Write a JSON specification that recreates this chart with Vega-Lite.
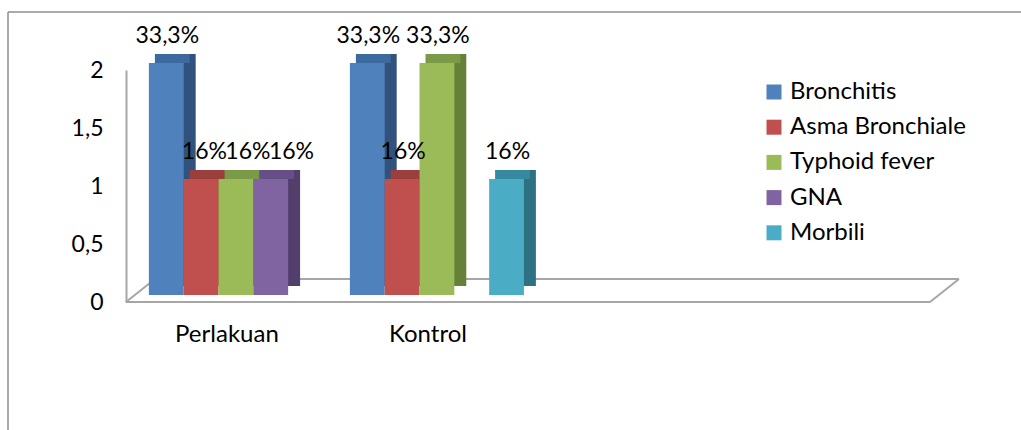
{
  "$schema": "https://vega.github.io/schema/vega-lite/v6.json",
  "width": 804,
  "height": 232,
  "autosize": {"type": "none"},
  "padding": {"left": 126, "top": 70, "right": 91, "bottom": 128},
  "background": "white",
  "config": {"font": "Lato", "view": {"stroke": null}},
  "data": {
    "values": [
      {"kelompok": "Perlakuan", "penyakit": "Bronchitis", "jumlah": 2, "persen": "33,3%"},
      {"kelompok": "Perlakuan", "penyakit": "Asma Bronchiale", "jumlah": 1, "persen": "16%"},
      {"kelompok": "Perlakuan", "penyakit": "Typhoid fever", "jumlah": 1, "persen": "16%"},
      {"kelompok": "Perlakuan", "penyakit": "GNA", "jumlah": 1, "persen": "16%"},
      {"kelompok": "Kontrol", "penyakit": "Bronchitis", "jumlah": 2, "persen": "33,3%"},
      {"kelompok": "Kontrol", "penyakit": "Asma Bronchiale", "jumlah": 1, "persen": "16%"},
      {"kelompok": "Kontrol", "penyakit": "Typhoid fever", "jumlah": 2, "persen": "33,3%"},
      {"kelompok": "Kontrol", "penyakit": "Morbili", "jumlah": 1, "persen": "16%"}
    ]
  },
  "layer": [
    {
      "data": {"values": [{}]},
      "layer": [
        {
          "mark": {"type": "rule", "color": "#8f8f8f", "strokeWidth": 1.5, "xOffset": -118, "x2Offset": 120, "yOffset": -58},
          "encoding": {
            "x": {"datum": 0, "type": "quantitative", "scale": {"domain": [0, 1]}, "axis": null},
            "x2": {"datum": 1},
            "y": {"datum": 2, "type": "quantitative"}
          }
        },
        {
          "mark": {"type": "rule", "color": "#8f8f8f", "strokeWidth": 1.5, "xOffset": -118, "yOffset": -58, "y2Offset": 140},
          "encoding": {
            "x": {"datum": 0, "type": "quantitative", "axis": null},
            "y": {"datum": 2, "type": "quantitative"},
            "y2": {"datum": 0}
          }
        },
        {
          "mark": {"type": "rule", "color": "#a6a6a6", "strokeWidth": 2, "xOffset": 29, "x2Offset": 29, "yOffset": -23, "y2Offset": -23},
          "encoding": {
            "x": {"datum": 0, "type": "quantitative", "axis": null},
            "x2": {"datum": 1},
            "y": {"datum": 0, "type": "quantitative"},
            "y2": {"datum": 0}
          }
        },
        {
          "mark": {"type": "rule", "color": "#a6a6a6", "strokeWidth": 2, "x2Offset": 29, "y2Offset": -23},
          "encoding": {
            "x": {"datum": 0, "type": "quantitative", "axis": null},
            "x2": {"datum": 0},
            "y": {"datum": 0, "type": "quantitative"},
            "y2": {"datum": 0}
          }
        },
        {
          "mark": {"type": "rule", "color": "#a6a6a6", "strokeWidth": 2, "x2Offset": 29, "y2Offset": -23},
          "encoding": {
            "x": {"datum": 1, "type": "quantitative", "axis": null},
            "x2": {"datum": 1},
            "y": {"datum": 0, "type": "quantitative"},
            "y2": {"datum": 0}
          }
        },
        {
          "mark": {"type": "rule", "color": "#a6a6a6", "strokeWidth": 2},
          "encoding": {
            "x": {"datum": 0, "type": "quantitative", "axis": null},
            "x2": {"datum": 1},
            "y": {"datum": 0, "type": "quantitative"}
          }
        }
      ]
    },
    {
      "encoding": {
        "x": {
          "field": "kelompok",
          "type": "nominal",
          "scale": {"type": "band", "domain": ["Perlakuan", "Kontrol", " ", "  "], "paddingInner": 0.134, "paddingOuter": 0.067, "align": 0.85},
          "axis": {"title": null, "domain": false, "ticks": false, "labelFontSize": 24, "labelColor": "#000000", "labelPadding": 20, "labelOffset": -9, "labelAngle": 0}
        },
        "y": {
          "field": "jumlah",
          "type": "quantitative",
          "scale": {"domain": [0, 2]},
          "axis": {
            "title": null,
            "values": [0, 0.5, 1, 1.5, 2],
            "format": "~g",
            "labelExpr": "replace(datum.label, '.', ',')",
            "grid": false,
            "ticks": false,
            "domainColor": "#a6a6a6",
            "domainWidth": 2,
            "labelFontSize": 23,
            "labelColor": "#000000",
            "labelPadding": 23
          }
        }
      },
      "layer": [
        {
          "mark": {"type": "bar", "yOffset": -16, "y2Offset": -16},
          "encoding": {
            "xOffset": {
              "field": "penyakit",
              "type": "nominal",
              "scale": {"domain": ["Bronchitis", "Asma Bronchiale", "Typhoid fever", "GNA", "Morbili"], "range": [12, 186], "paddingInner": 0, "paddingOuter": 0}
            },
            "color": {
              "field": "penyakit",
              "type": "nominal",
              "scale": {"domain": ["Bronchitis", "Asma Bronchiale", "Typhoid fever", "GNA", "Morbili"], "range": ["#30527D", "#823532", "#66803A", "#533F6C", "#2E7183"]},
              "legend": null
            }
          }
        },
        {
          "mark": {"type": "bar", "yOffset": -16, "y2Offset": -7},
          "encoding": {
            "y2": {"field": "jumlah"},
            "xOffset": {
              "field": "penyakit",
              "type": "nominal",
              "scale": {"domain": ["Bronchitis", "Asma Bronchiale", "Typhoid fever", "GNA", "Morbili"], "range": [6, 180], "paddingInner": 0, "paddingOuter": 0}
            },
            "color": {
              "field": "penyakit",
              "type": "nominal",
              "scale": {"domain": ["Bronchitis", "Asma Bronchiale", "Typhoid fever", "GNA", "Morbili"], "range": ["#3D6A9E", "#9B3F3C", "#7A9A48", "#664F86", "#3789A0"]},
              "legend": null
            }
          }
        },
        {
          "encoding": {
            "xOffset": {
              "field": "penyakit",
              "type": "nominal",
              "scale": {"domain": ["Bronchitis", "Asma Bronchiale", "Typhoid fever", "GNA", "Morbili"], "paddingInner": 0, "paddingOuter": 0}
            }
          },
          "layer": [
            {
              "mark": {"type": "bar", "yOffset": -7, "y2Offset": -7},
              "encoding": {
                "color": {
                  "field": "penyakit",
                  "type": "nominal",
                  "scale": {"domain": ["Bronchitis", "Asma Bronchiale", "Typhoid fever", "GNA", "Morbili"], "range": ["#4F81BD", "#C0504D", "#9BBB59", "#8064A2", "#4BACC6"]},
                  "legend": {
                    "title": null,
                    "orient": "none",
                    "legendX": 636,
                    "legendY": 10,
                    "symbolType": "square",
                    "symbolSize": 225,
                    "symbolStrokeWidth": 0,
                    "labelFontSize": 24,
                    "labelColor": "#000000",
                    "labelOffset": 4,
                    "rowPadding": 11.2,
                    "labelLimit": 300
                  }
                }
              }
            },
            {
              "transform": [{"filter": "!(datum.kelompok === 'Perlakuan' && datum.jumlah === 1)"}],
              "mark": {"type": "text", "fontSize": 23, "color": "#000000", "baseline": "middle", "dx": 1, "dy": -34},
              "encoding": {"text": {"field": "persen", "type": "nominal"}}
            }
          ]
        },
        {
          "transform": [{"filter": "datum.kelompok === 'Perlakuan' && datum.jumlah === 1"}],
          "mark": {"type": "text", "fontSize": 23, "color": "#000000", "baseline": "middle", "dx": 12, "dy": -34},
          "encoding": {
            "xOffset": {
              "field": "penyakit",
              "type": "nominal",
              "scale": {"domain": ["Bronchitis", "Asma Bronchiale", "Typhoid fever", "GNA", "Morbili"], "paddingInner": 0, "paddingOuter": 0}
            },
            "text": {"field": "persen", "type": "nominal"}
          }
        }
      ],
      "resolve": {"scale": {"xOffset": "independent", "color": "independent"}, "legend": {"color": "independent"}}
    }
  ],
  "resolve": {"scale": {"x": "independent"}, "axis": {"x": "independent"}}
}
